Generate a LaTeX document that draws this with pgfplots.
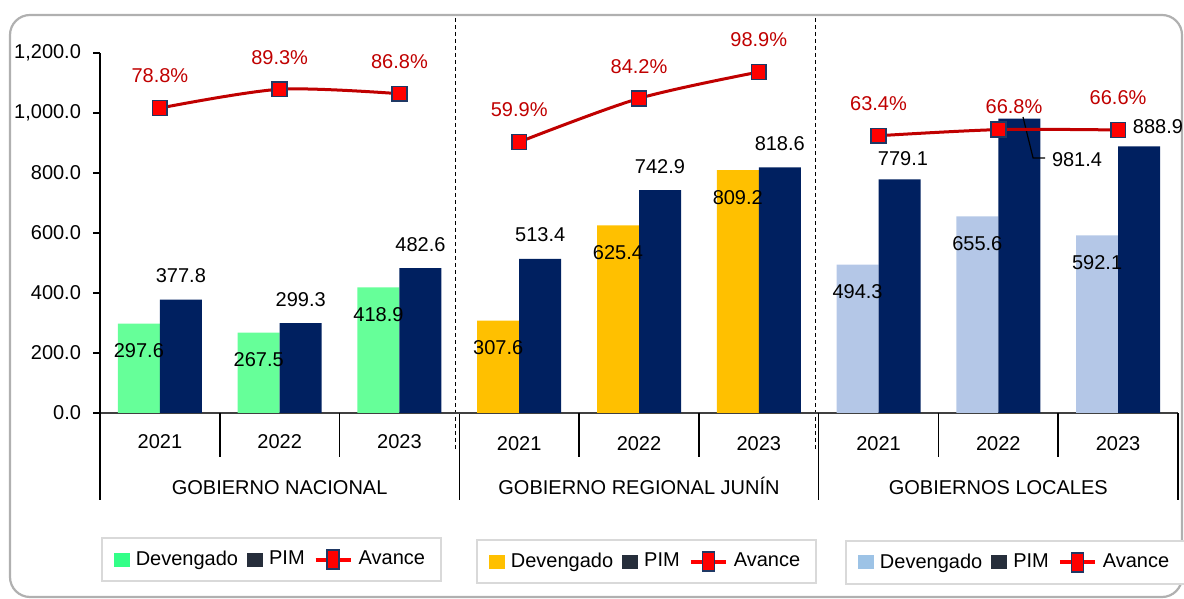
\documentclass[border=0pt]{standalone}
\usepackage{pgfplots}
\pgfplotsset{compat=1.18}
\usepackage{fontspec}
\setmainfont{Liberation Sans}
\definecolor{pim}{HTML}{002060}
\definecolor{devN}{HTML}{66FF99}
\definecolor{devR}{HTML}{FFC000}
\definecolor{devL}{HTML}{B4C7E7}
\definecolor{legPIM}{HTML}{262E3B}
\definecolor{legN}{HTML}{33FF88}
\definecolor{legL}{HTML}{9DC3E6}
\definecolor{avline}{HTML}{C00000}
\definecolor{mkborder}{HTML}{1F3864}
\definecolor{pct}{HTML}{C00000}
\definecolor{frame}{HTML}{B0B0B0}
\definecolor{legframe}{HTML}{D9D9D9}

\tikzset{sepline/.style={black, line width=0.8pt}}
\pgfplotsset{
  /pgf/number format/assume math mode=true,
  baraxis/.style={
    scale only axis, width=179.667pt, height=180pt,
    xmin=-0.5, xmax=2.5, ymin=0, ymax=1200,
    ybar=0pt, bar width=21pt,
    clip=false,
    axis x line*=bottom,
    x axis line style={-, black!75, line width=0.8pt},
    xtick={0,1,2}, xticklabels={2021,2022,2023},
    major x tick style={draw=none},
    xticklabel style={anchor=base, yshift=-14.5pt, font=\normalsize},
    xlabel style={at={(axis description cs:0.5,0)}, anchor=base, yshift=-41pt, font=\normalsize},
    legend columns=3,
    legend style={draw=legframe, line width=1pt, fill=white, anchor=center, font=\normalsize,
      inner xsep=6pt, inner ysep=4.5pt,
      /tikz/every even column/.append style={column sep=2.5pt},
      /tikz/every odd column/.append style={column sep=1pt}},
  },
  dlab/.style={nodes near coords, point meta=y,
    every node near coord/.append style={anchor=center, yshift=#1, text=black, font=\normalsize,
      /pgf/number format/fixed, /pgf/number format/fixed zerofill, /pgf/number format/precision=1}},
  sw/.style={legend image code/.code={\fill[#1] (0pt,-3.5pt) rectangle (8pt,3.5pt);}},
  avleg/.style={legend image code/.code={\draw[red, line width=2pt] (0pt,0pt) -- (17.5pt,0pt);
      \filldraw[fill=red, draw=mkborder, line width=0.8pt] (5.75pt,-4.75pt) rectangle (11.75pt,4.75pt);}},
  avl/.style={smooth, color=avline, line width=1.5pt, mark=square*, mark size=3.7pt,
    mark options={fill=red, draw=mkborder, line width=0.8pt, solid}},
  plab/.style={nodes near coords={\pgfmathprintnumber[fixed,fixed zerofill,precision=1]{\pgfplotspointmeta}\%},
    point meta=y,
    every node near coord/.append style={anchor=center, yshift=16pt, text=pct, font=\normalsize}},
}

\begin{document}
\begin{tikzpicture}
\useasboundingbox (0,0) rectangle (592pt,299.5pt);
% outer frame
\draw[frame, line width=1.1pt, rounded corners=10pt] (5pt,292pt) rectangle (591pt,1pt);
% dashed separators
\draw[black, line width=0.5pt, dash pattern=on 2pt off 1.5pt] (227.5pt,290.5pt) -- (227.5pt,74.5pt);
\draw[black, line width=0.5pt, dash pattern=on 2pt off 1.5pt] (407.5pt,290.5pt) -- (407.5pt,74.5pt);

% ---- Gobierno Nacional
\begin{axis}[baraxis, at={(50pt,93pt)}, anchor=south west,
  axis y line*=left, y axis line style={-, black, line width=0.8pt},
  ytick={0,200,...,1200}, tick align=outside,
  major y tick style={black, line width=0.8pt}, major tick length=3.5pt,
  yticklabel style={font=\normalsize, xshift=-2.5pt, /pgf/number format/.cd, fixed, fixed zerofill, precision=1},
  xlabel={GOBIERNO NACIONAL},
  legend style={at={(0.477,-0.407)}},
]
\addplot[fill=devN, draw=none, sw=legN, dlab=-13.5pt] coordinates {(0,297.6) (1,267.5) (2,418.9)};
\addlegendentry{Devengado}
\addplot[fill=pim, draw=none, sw=legPIM, dlab=12pt] coordinates {(0,377.8) (1,299.3) (2,482.6)};
\addlegendentry{PIM}
\addlegendimage{avleg}
\addlegendentry{Avance}
\draw[sepline] (axis cs:-0.5,0) -- ++(0pt,-43.5pt);
\draw[sepline] (axis cs:0.5,0) -- ++(0pt,-22pt);
\draw[sepline] (axis cs:1.5,0) -- ++(0pt,-22pt);
\draw[sepline] (axis cs:2.5,0) -- ++(0pt,-43.5pt);
\end{axis}

% ---- Gobierno Regional Junin
\begin{axis}[baraxis, at={(229.667pt,93pt)}, anchor=south west,
  axis y line=none,
  xlabel={GOBIERNO REGIONAL JUNÍN},
  legend style={at={(0.521,-0.4125)}},
]
\addplot[fill=devR, draw=none, sw=devR, dlab=-13.5pt] coordinates {(0,307.6) (1,625.4) (2,809.2)};
\addlegendentry{Devengado}
\addplot[fill=pim, draw=none, sw=legPIM, dlab=12pt] coordinates {(0,513.4) (1,742.9) (2,818.6)};
\addlegendentry{PIM}
\addlegendimage{avleg}
\addlegendentry{Avance}
\draw[sepline] (axis cs:0.5,0) -- ++(0pt,-22pt);
\draw[sepline] (axis cs:1.5,0) -- ++(0pt,-22pt);
\draw[sepline] (axis cs:2.5,0) -- ++(0pt,-43.5pt);
\end{axis}

% ---- Gobiernos Locales
\begin{axis}[baraxis, at={(409.333pt,93pt)}, anchor=south west,
  axis y line=none,
  xlabel={GOBIERNOS LOCALES},
  legend style={at={(0.548,-0.415)}},
]
\addplot[fill=devL, draw=none, sw=legL, dlab=-13.5pt] coordinates {(0,494.3) (1,655.6) (2,592.1)};
\addlegendentry{Devengado}
\addplot[fill=pim, draw=none, sw=legPIM] coordinates {(0,779.1) (1,981.4) (2,888.9)};
\addlegendentry{PIM}
\addlegendimage{avleg}
\addlegendentry{Avance}
\node[font=\normalsize] at (axis cs:0.204,846.7) {779.1};
\node[font=\normalsize] at (axis cs:1.657,843.3) {981.4};
\node[font=\normalsize] at (axis cs:2.333,953.3) {888.9};
\draw[black, line width=0.6pt] (axis cs:1.206,986.7) -- (axis cs:1.290,850) -- (axis cs:1.390,850);
\draw[sepline] (axis cs:0.5,0) -- ++(0pt,-22pt);
\draw[sepline] (axis cs:1.5,0) -- ++(0pt,-22pt);
\draw[sepline] (axis cs:2.5,0) -- ++(0pt,-43.5pt);
\end{axis}

% ---- Avance (secondary scale)
\begin{axis}[scale only axis, width=539pt, height=180pt, at={(50pt,93pt)}, anchor=south west,
  xmin=-0.5, xmax=8.5, ymin=-91.1, ymax=109.5, hide axis, clip=false]
\addplot[avl, plab] coordinates {(0,78.8) (1,89.3) (2,86.8)};
\addplot[avl, plab] coordinates {(3,59.9) (4,84.2) (5,98.9)};
\addplot[avl] coordinates {(6,63.4) (7,66.8) (8,66.6)};
\addplot[draw=none, mark=none, plab] coordinates {(6,63.4) (8,66.6)};
\node[text=pct, font=\normalsize] at (axis cs:7.131,79.4) {66.8\%};
\end{axis}
\end{tikzpicture}
\end{document}
